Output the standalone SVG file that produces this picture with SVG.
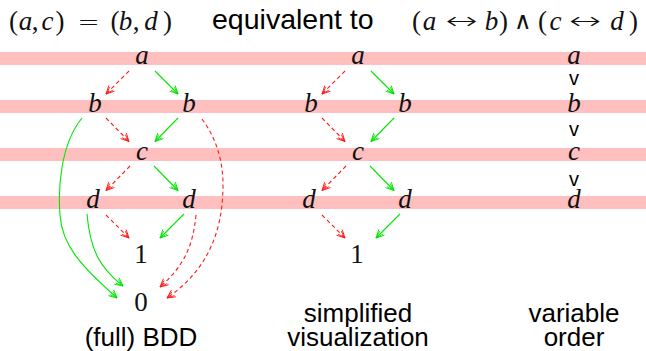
<svg xmlns="http://www.w3.org/2000/svg" width="646" height="351" viewBox="0 0 646 351">
<style>
.band{fill:#ffbfbf}
.m{font-family:"Liberation Serif","DejaVu Serif",serif;font-style:italic;font-size:27px;fill:#111;text-anchor:middle}
.r{font-family:"Liberation Serif","DejaVu Serif",serif;font-size:27px;fill:#111;text-anchor:middle}
.op{font-family:"DejaVu Sans",sans-serif;font-weight:200;font-size:24px;fill:#111;text-anchor:middle}
.s{font-family:"Liberation Sans",Arial,sans-serif;font-size:26px;fill:#000;text-anchor:middle}
.v{font-family:"Liberation Sans",Arial,sans-serif;font-size:20px;fill:#000;text-anchor:middle}
.hi{fill:none;stroke:#00e600;stroke-width:1.1;marker-end:url(#ag)}
.lo{fill:none;stroke:#ff1a1a;stroke-width:1.1;stroke-dasharray:4 3;marker-end:url(#ar)}
</style>
<defs>
<marker id="ag" viewBox="-10 -6 12 12" refX="0" refY="0" markerWidth="12" markerHeight="12" markerUnits="userSpaceOnUse" orient="auto">
<path d="M-8,-4 L0,0 L-8,4 M-7.5,-2.2 L0,0 L-7.5,2.2" fill="none" stroke="#00e600" stroke-width="0.9"/>
</marker>
<marker id="ar" viewBox="-10 -6 12 12" refX="0" refY="0" markerWidth="12" markerHeight="12" markerUnits="userSpaceOnUse" orient="auto">
<path d="M-8,-4 L0,0 L-8,4 M-7.5,-2.2 L0,0 L-7.5,2.2" fill="none" stroke="#ff1a1a" stroke-width="0.9"/>
</marker>
</defs>
<rect width="646" height="351" fill="#fff"/>
<g id="bands">
<rect class="band" x="0" y="52" width="646" height="13"/>
<rect class="band" x="0" y="100" width="646" height="13"/>
<rect class="band" x="0" y="148" width="646" height="13"/>
<rect class="band" x="0" y="196" width="646" height="13"/>
</g>
<g id="title">
<text class="r" x="13.5" y="30">(</text>
<text class="m" x="25.5" y="30">a</text>
<text class="r" x="35" y="30">,</text>
<text class="m" x="47.5" y="30">c</text>
<text class="r" x="60" y="30">)</text>
<text class="op" transform="translate(88.5,30) scale(1.1,1)" x="0" y="0">=</text>
<text class="r" x="115" y="30">(</text>
<text class="m" x="125.5" y="30">b</text>
<text class="r" x="136" y="30">,</text>
<text class="m" x="151" y="30">d</text>
<text class="r" x="167.5" y="30">)</text>
<text x="212" y="29" font-family="Liberation Sans,Arial,sans-serif" font-size="28.5" fill="#000">equivalent to</text>
<text class="r" x="416.5" y="30">(</text>
<text class="m" x="429.5" y="30">a</text>
<text class="op" transform="translate(461.5,29) scale(1.6,1)" x="0" y="0">↔</text>
<text class="m" x="491.5" y="30">b</text>
<text class="r" x="503.5" y="30">)</text>
<text class="op" x="522.5" y="29">∧</text>
<text class="r" x="542.5" y="30">(</text>
<text class="m" x="555.5" y="30">c</text>
<text class="op" transform="translate(585,29) scale(1.6,1)" x="0" y="0">↔</text>
<text class="m" x="617" y="30">d</text>
<text class="r" x="633.5" y="30">)</text>
</g>
<g id="connectors">
<path class="lo" d="M129,71 L106,94"/>
<path class="hi" d="M155,71 L178,94"/>
<path class="lo" d="M106,118 L129,141.5"/>
<path class="hi" d="M178,118 L155,141.5"/>
<path class="lo" d="M130,166 L106,190.5"/>
<path class="hi" d="M154,166 L178,190.5"/>
<path class="lo" d="M106,215 L129,238"/>
<path class="hi" d="M184,214 L160,238"/>
<path class="hi" d="M87,214 C90,250 100,268 123,286"/>
<path class="hi" d="M82,118 C60,145 58,190 60,215 C62,245 80,265 117,298"/>
<path class="lo" d="M196,215 C193,245 185,265 160,287"/>
<path class="lo" d="M202,119 C216,138 223,160 223,185 C223,235 205,272 167,298"/>
<path class="lo" d="M345,71 L322,94"/>
<path class="hi" d="M371,71 L394,94"/>
<path class="lo" d="M322,118 L345,141.5"/>
<path class="hi" d="M394,118 L371,141.5"/>
<path class="lo" d="M346,166 L322,190.5"/>
<path class="hi" d="M370,166 L394,190.5"/>
<path class="lo" d="M322,215 L345,238"/>
<path class="hi" d="M400,214 L376,238"/>
</g>
<g id="bdd-a"><text class="m" x="142" y="64">a</text></g>
<g id="bdd-b1"><text class="m" x="95" y="112">b</text></g>
<g id="bdd-b2"><text class="m" x="189" y="112">b</text></g>
<g id="bdd-c"><text class="m" x="142" y="160">c</text></g>
<g id="bdd-d1"><text class="m" x="93" y="208">d</text></g>
<g id="bdd-d2"><text class="m" x="189" y="208">d</text></g>
<g id="bdd-1"><text class="r" x="141" y="263">1</text></g>
<g id="bdd-0"><text class="r" x="141" y="311">0</text></g>
<g id="sim-a"><text class="m" x="358" y="64">a</text></g>
<g id="sim-b1"><text class="m" x="311" y="112">b</text></g>
<g id="sim-b2"><text class="m" x="405" y="112">b</text></g>
<g id="sim-c"><text class="m" x="358" y="160">c</text></g>
<g id="sim-d1"><text class="m" x="309" y="208">d</text></g>
<g id="sim-d2"><text class="m" x="405" y="208">d</text></g>
<g id="sim-1"><text class="r" x="357" y="263">1</text></g>
<g id="order">
<text class="m" x="574" y="64">a</text>
<text class="m" x="574" y="112">b</text>
<text class="m" x="574" y="160">c</text>
<text class="m" x="574" y="208">d</text>
<text class="v" x="574" y="85">v</text>
<text class="v" x="574" y="136">v</text>
<text class="v" x="574" y="186">v</text>
</g>
<g id="labels">
<text class="s" x="141" y="346">(full) BDD</text>
<text class="s" x="358" y="322">simplified</text>
<text class="s" x="358" y="346">visualization</text>
<text class="s" x="574" y="322">variable</text>
<text class="s" x="574" y="346">order</text>
</g>
</svg>
